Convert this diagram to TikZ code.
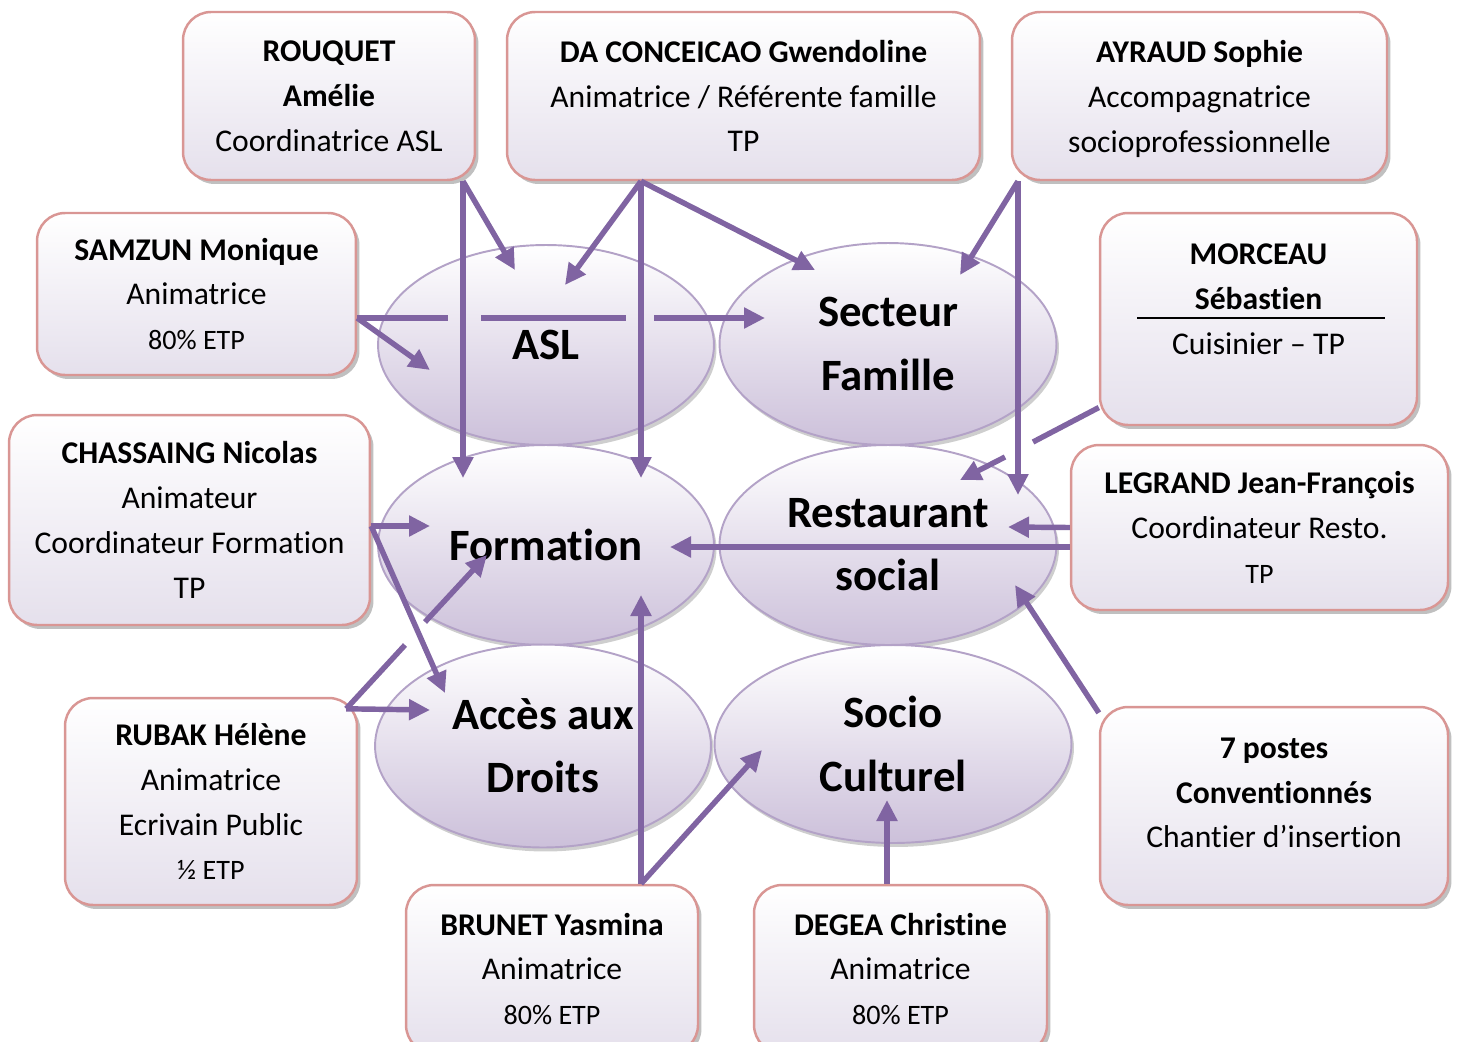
\documentclass[tikz,border=0pt]{standalone}
\usepackage{fontspec}
\setmainfont{Carlito}[RawFeature={-liga;-clig;-calt;-dlig}]
\usetikzlibrary{arrows.meta}
\usetikzlibrary{calc}
\usetikzlibrary{shapes.geometric}
\usetikzlibrary{shadows}
\definecolor{violetfl}{RGB}{128,100,162}
\definecolor{rosebord}{RGB}{217,150,148}
\definecolor{lavande}{RGB}{229,224,236}
\definecolor{mauvebord}{RGB}{179,162,199}
\definecolor{mauve}{RGB}{204,192,218}

\begin{document}
\begin{tikzpicture}[line join=miter,>={Triangle[length=0.42cm,width=0.4cm]},x=0.02cm,y=-0.02cm,
  agent/.style={draw=rosebord,line width=1.4pt,rounded corners=0.56cm,top color=white,bottom color=lavande,
    align=center,inner sep=0pt,font=\fontsize{18}{25.5}\selectfont,
    drop shadow={shadow xshift=0.07cm,shadow yshift=-0.08cm,fill=black!55,opacity=0.45}},
  agenttxt/.style={align=center,inner sep=0pt,font=\fontsize{18}{25.5}\selectfont},
  pole/.style={ellipse,draw=mauvebord,line width=1.1pt,top color=white,bottom color=mauve,
    align=center,inner sep=0pt,font=\fontsize{25.5}{36}\selectfont\bfseries,
    drop shadow={shadow xshift=0.05cm,shadow yshift=-0.08cm,fill=black!55,opacity=0.35}},
  lien/.style={->,draw=violetfl,line width=3.1pt}]
\useasboundingbox (0,0) rectangle (1459,1041);
\clip (0,0) rectangle (1459,1041);

% les poles
\node [pole,minimum width=6.72cm,minimum height=4cm] (asl) at (546,345) {ASL};
\node [pole,minimum width=6.74cm,minimum height=4.04cm] (famille) at (888,344) {Secteur\\Famille};
\node [pole,minimum width=6.72cm,minimum height=4cm] (formation) at (546,545) {Formation};
\node [pole,minimum width=6.74cm,minimum height=4cm] (resto) at (888,545) {Restaurant\\social};
\node [pole,minimum width=6.72cm,minimum height=4.06cm] (droits) at (543,746) {Accès aux\\Droits};
\node [pole,minimum width=7.14cm,minimum height=3.96cm] (socio) at (893,744) {Socio\\Culturel};

% les salaries
\node [agent,minimum width=5.84cm,minimum height=3.36cm] (rouquet) at (329,96) {\bfseries ROUQUET\\\bfseries Amélie\\Coordinatrice ASL};
\node [agent,minimum width=9.46cm,minimum height=3.36cm] (conceicao) at (743.5,96) {\bfseries DA CONCEICAO Gwendoline\\Animatrice / Référente famille\\TP};
\node [agent,minimum width=7.5cm,minimum height=3.36cm] (ayraud) at (1199.5,96) {};
\node [agenttxt] (ayraudtxt) at (1199.5,99) {\bfseries AYRAUD Sophie\\Accompagnatrice\\socioprofessionnelle};
\node [agent,minimum width=6.38cm,minimum height=3.24cm] (samzun) at (196.5,294) {\bfseries SAMZUN Monique\\Animatrice\\{\fontsize{16}{25.5}\selectfont 80\% ETP}};
\node [agent,minimum width=6.34cm,minimum height=4.24cm] (morceau) at (1258.5,319) {};
\node [agenttxt] (morceautxt) at (1258.5,299) {\bfseries MORCEAU\\\bfseries Sébastien\\Cuisinier -- TP};
\draw [line width=0.8pt] (1137,318) -- (1385,318);
\node [agent,minimum width=7.22cm,minimum height=4.2cm] (chassaing) at (189.5,520) {\bfseries CHASSAING Nicolas\\Animateur\\Coordinateur Formation\\TP};
\node [agent,minimum width=7.54cm,minimum height=3.3cm] (legrand) at (1259.5,527.5) {\bfseries LEGRAND Jean-François\\Coordinateur Resto.\\{\fontsize{16}{25.5}\selectfont TP}};
\node [agent,minimum width=5.84cm,minimum height=4.14cm] (rubak) at (211,801.5) {\bfseries RUBAK Hélène\\Animatrice\\Ecrivain Public\\{\fontsize{16}{25.5}\selectfont ½ ETP}};
\node [agent,minimum width=6.96cm,minimum height=3.96cm] (postes) at (1274,806) {};
\node [agenttxt] (postestxt) at (1274,793) {\bfseries 7 postes\\\bfseries Conventionnés\\Chantier d’insertion};
\node [agent,minimum width=5.84cm,minimum height=3.36cm] (brunet) at (552,969) {\bfseries BRUNET Yasmina\\Animatrice\\{\fontsize{16}{25.5}\selectfont 80\% ETP}};
\node [agent,minimum width=5.86cm,minimum height=3.36cm] (degea) at (900.5,969) {\bfseries DEGEA Christine\\Animatrice\\{\fontsize{16}{25.5}\selectfont 80\% ETP}};

% bouts des fleches
\coordinate (fA) at (463,478);
\coordinate (aA) at (515,270);
\coordinate (aB) at (565,285);
\coordinate (fB) at (641,478);
\coordinate (sA) at (815,270);
\coordinate (sB) at (960,275);
\coordinate (rC) at (1018,495);
\coordinate (sC) at (765,318);
\coordinate (aC) at (430,370);
\coordinate (rD) at (960,480);
\coordinate (rE) at (1008,527);
\coordinate (fC) at (670,547);
\coordinate (rF) at (1015,585);
\coordinate (fD) at (430,526);
\coordinate (dA) at (445,693);
\coordinate (dB) at (430,710);
\coordinate (fE) at (487,555);
\coordinate (fF) at (641,595);
\coordinate (cA) at (762,750);
\coordinate (cB) at (887,800);
% coupures aux croisements
\coordinate (g1) at (448,318);
\coordinate (g2) at (481,318);
\coordinate (g3) at (626,318);
\coordinate (g4) at (654,318);
\coordinate (g5) at (1033,442);
\coordinate (g6) at (1005,457);
\coordinate (g7) at (405,645);
\coordinate (g8) at (425,622);

\draw [lien] (rouquet.south -| fA) -- (fA);
\draw [lien] (rouquet.south -| fA) -- (aA);
\draw [lien] (conceicao.south -| fB) -- (aB);
\draw [lien] (conceicao.south -| fB) -- (fB);
\draw [lien] (conceicao.south -| fB) -- (sA);
\draw [lien] (ayraud.south -| rC) -- (sB);
\draw [lien] (ayraud.south -| rC) -- (rC);
\draw [lien] (samzun.east |- sC) -- (g1) (g2) -- (g3) (g4) -- (sC);
\draw [lien] (samzun.east |- sC) -- (aC);
\draw [lien] (morceau.209) -- (g5) (g6) -- (rD);
\draw [lien] (legrand.west) -- (rE);
\draw [lien] (legrand.west |- fC) -- (fC);
\draw [lien] (postes.152) -- (rF);
\draw [lien] (chassaing.east |- fD) -- (fD);
\draw [lien] (chassaing.east |- fD) -- (dA);
\draw [lien] ($(rubak.north east)+(-12,12)$) -- (dB);
\draw [lien] ($(rubak.north east)+(-12,12)$) -- (g7) (g8) -- (fE);
\draw [lien] (brunet.north -| fF) -- (fF);
\draw [lien] (brunet.north -| fF) -- (cA);
\draw [lien] (degea.north -| cB) -- (cB);
\end{tikzpicture}
\end{document}
